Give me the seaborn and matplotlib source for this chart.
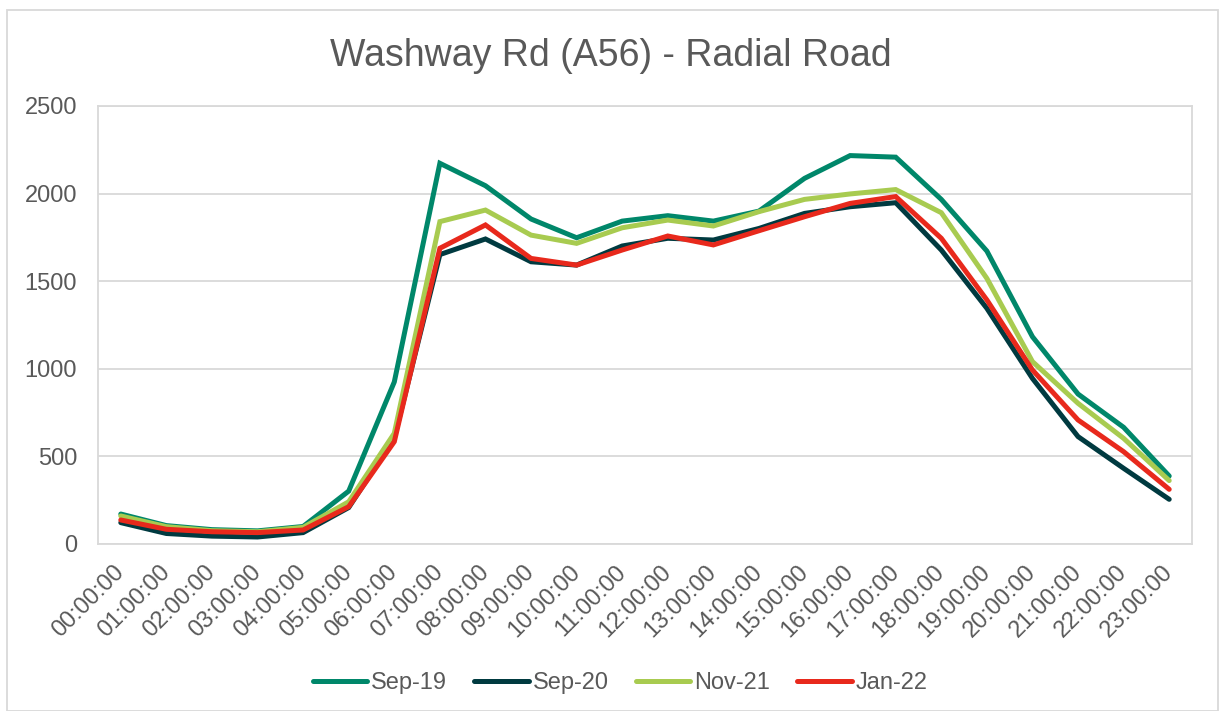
import matplotlib
matplotlib.use("Agg")
import matplotlib.pyplot as plt
import seaborn as sns
import pandas as pd
from matplotlib.patches import Rectangle

hours = [f"{h:02d}:00:00" for h in range(24)]

sep19 = [171, 105, 82, 75, 100, 302, 925, 2173, 2045, 1855, 1748, 1843, 1874, 1843,
         1900, 2087, 2217, 2208, 1967, 1672, 1183, 856, 666, 388]
sep20 = [122, 60, 45, 40, 65, 208, 605, 1652, 1741, 1611, 1592, 1701, 1745, 1735,
         1801, 1887, 1925, 1948, 1678, 1345, 945, 613, 432, 255]
nov21 = [160, 99, 76, 70, 95, 241, 632, 1840, 1906, 1763, 1716, 1805, 1849, 1815,
         1897, 1967, 1998, 2023, 1891, 1516, 1041, 803, 603, 362]
jan22 = [137, 84, 70, 65, 80, 213, 584, 1688, 1821, 1630, 1592, 1678, 1758, 1707,
         1788, 1868, 1944, 1983, 1745, 1393, 993, 708, 527, 312]

series_names = ["Sep-19", "Sep-20", "Nov-21", "Jan-22"]
colors = ["#00876A", "#003A40", "#A8CB50", "#E8291C"]
yticks = [0, 500, 1000, 1500, 2000, 2500]

rows = []
for name, vals in zip(series_names, [sep19, sep20, nov21, jan22]):
    for h, v in zip(hours, vals):
        rows.append({"time": h, "value": v, "series": name})
df = pd.DataFrame(rows)

sns.set_theme(style="white")
plt.rcParams["font.family"] = ["Liberation Sans", "DejaVu Sans"]
text_color = "#595959"
grid_color = "#D9D9D9"

fig = plt.figure(figsize=(12.21, 7.11), dpi=100)
ax = fig.add_axes([98 / 1221, 1 - 544 / 711, (1192 - 98) / 1221, (544 - 106) / 711])

sns.lineplot(data=df, x="time", y="value", hue="series", palette=colors,
             hue_order=series_names, sort=False, linewidth=3.6, ax=ax,
             legend=False, solid_capstyle="round", solid_joinstyle="miter")

ax.set_xlim(-0.5, 23.5)
ax.set_ylim(0, 2500)
ax.set_yticks(yticks)
ax.set_yticklabels([str(t) for t in yticks])
ax.set_xticks(range(len(hours)))
ax.set_xticklabels(hours, rotation=45, ha="right", va="center", rotation_mode="anchor")
ax.set_xlabel("")
ax.set_ylabel("")
ax.grid(axis="y", color=grid_color, linewidth=1.3)
ax.set_axisbelow(True)
for s in ax.spines.values():
    s.set_color(grid_color)
    s.set_linewidth(1.3)
ax.tick_params(axis="y", length=3, color=grid_color, pad=12, labelsize=17, labelcolor=text_color)
ax.tick_params(axis="x", length=0, pad=18, labelsize=17, labelcolor=text_color)

fig.text(0.5, 1 - 56 / 711, "Washway Rd (A56) - Radial Road", ha="center", va="center",
         fontsize=27, color=text_color)

handles = [plt.Line2D([], [], color=c, linewidth=3.6, solid_capstyle="round") for c in colors]
fig.legend(handles, series_names, loc="center", bbox_to_anchor=(0.508, 1 - 683 / 711),
           ncol=4, frameon=False, fontsize=17, handlelength=2.3, handletextpad=0.17,
           columnspacing=1.15, labelcolor=text_color)

fig.patches.append(Rectangle((7 / 1221, 0), (1218 - 7) / 1221, 1 - 10 / 711,
                             transform=fig.transFigure, fill=False,
                             edgecolor=grid_color, linewidth=1.3))

fig.savefig("out.png", dpi=100)
